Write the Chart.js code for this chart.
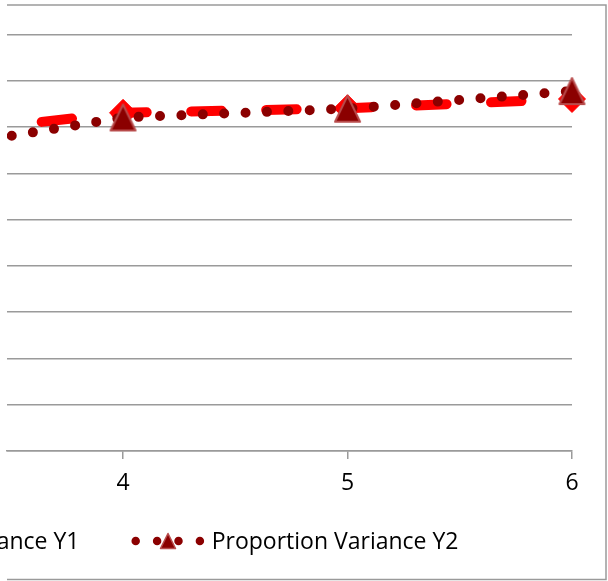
<!DOCTYPE html>
<html>
<head>
<meta charset="utf-8">
<script src="https://cdn.jsdelivr.net/npm/chart.js@4.4.0/dist/chart.umd.min.js"></script>
<style>
html, body { margin: 0; padding: 0; background: #fff; }
#wrap { position: relative; width: 608px; height: 581px; }
</style>
</head>
<body>
<div id="wrap"><canvas id="varianceChart"></canvas></div>
<script>
// values (only the right part of the chart is visible)
var xValues = [3, 4, 5, 6];
var y1Values = [0.677, 0.731, 0.741, 0.761];
var y2Values = [0.641, 0.721, 0.740, 0.778];
var seriesNames = ['Proportion Variance Y1', 'Proportion Variance Y2'];
var xTicks = [4, 5, 6];

var FONT = '"Open Sans", "DejaVu Sans", sans-serif';
var GRID = '#9a9a9a';

function toPoints(ys) {
  return xValues.map(function (x, i) { return { x: x, y: ys[i] }; });
}

// excel like triangle marker, centred on its bounding box
function triangleMarker(w, h, lw) {
  var c = document.createElement('canvas');
  c.width = w + lw * 2;
  c.height = h + lw * 2;
  var g = c.getContext('2d');
  g.beginPath();
  g.moveTo(c.width / 2, lw);
  g.lineTo(c.width - lw, c.height - lw);
  g.lineTo(lw, c.height - lw);
  g.closePath();
  g.fillStyle = '#8b0000';
  g.fill();
  g.lineWidth = lw;
  g.lineJoin = 'round';
  g.strokeStyle = '#b84c4c';
  g.stroke();
  return c;
}
var plotTriangle = triangleMarker(25, 26, 2);
var legendTriangle = triangleMarker(15, 15, 1.5);

// outer border of the chart (left side is cut off)
var frame = {
  id: 'frame',
  beforeDraw: function (c) {
    var ctx = c.ctx;
    ctx.save();
    ctx.strokeStyle = GRID;
    ctx.lineWidth = 1.5;
    ctx.beginPath();
    ctx.moveTo(7, 5);
    ctx.lineTo(606, 5);
    ctx.lineTo(606, 579.5);
    ctx.lineTo(7, 579.5);
    ctx.stroke();
    ctx.restore();
  }
};

// legend drawn like excel: line sample with marker, then the label
var excelLegend = {
  id: 'excelLegend',
  afterDraw: function (c) {
    var ctx = c.ctx;
    var y = 541, sample = 64.6, gap = 11.4, itemGap = 56.2, centerX = 107.6;
    ctx.save();
    ctx.font = '23px ' + FONT;
    var widths = c.data.datasets.map(function (ds) {
      return sample + gap + ctx.measureText(ds.label).width;
    });
    var total = widths.reduce(function (a, b) { return a + b; }, 0) + itemGap * (widths.length - 1);
    var x = centerX - total / 2;
    c.data.datasets.forEach(function (ds, i) {
      ctx.save();
      ctx.beginPath();
      ctx.strokeStyle = ds.borderColor;
      ctx.lineWidth = ds.borderWidth - 1.5;
      ctx.lineCap = 'round';
      ctx.setLineDash(ds.borderDash);
      ctx.moveTo(x, y);
      ctx.lineTo(x + sample, y);
      ctx.stroke();
      ctx.restore();
      var mx = x + sample / 2;
      if (ds.pointStyle === 'rectRot') {
        ctx.beginPath();
        ctx.moveTo(mx - 9, y);
        ctx.lineTo(mx, y - 9);
        ctx.lineTo(mx + 9, y);
        ctx.lineTo(mx, y + 9);
        ctx.closePath();
        ctx.fillStyle = ds.backgroundColor;
        ctx.fill();
      } else {
        ctx.drawImage(legendTriangle, mx - legendTriangle.width / 2, y - legendTriangle.height / 2);
      }
      ctx.fillStyle = '#000';
      ctx.textBaseline = 'alphabetic';
      ctx.textAlign = 'left';
      ctx.fillText(ds.label, x + sample + gap, y + 7.5);
      x += widths[i] + itemGap;
    });
    ctx.restore();
  }
};

var varianceChart = document.getElementById('varianceChart').getContext('2d');
var chart = new Chart(varianceChart, {
  type: 'line',
  data: {
    datasets: [{
      label: seriesNames[0],
      data: toPoints(y1Values),
      borderColor: '#ff0000',
      backgroundColor: '#ff0000',
      borderWidth: 10,
      borderDash: [30.5, 44.5],
      borderDashOffset: 6,
      borderCapStyle: 'round',
      tension: 0,
      pointStyle: 'rectRot',
      pointRadius: 13.5,
      pointBorderWidth: 1,
      clip: { left: 0, top: 30, right: 30, bottom: 30 },
      order: 1
    }, {
      label: seriesNames[1],
      data: toPoints(y2Values),
      borderColor: '#8b0000',
      backgroundColor: '#8b0000',
      borderWidth: 10,
      borderDash: [0, 21.4],
      borderDashOffset: 13.7,
      borderCapStyle: 'round',
      tension: 0,
      pointStyle: plotTriangle,
      pointRadius: 14,
      clip: { left: 0, top: 30, right: 30, bottom: 30 },
      order: 0
    }]
  },
  options: {
    responsive: true,
    maintainAspectRatio: false,
    animation: false,
    events: [],
    layout: { autoPadding: false, padding: { left: 7, right: 36, top: 34.7, bottom: 72.5 } },
    scales: {
      x: {
        type: 'linear',
        min: 3.483,
        max: 6,
        afterBuildTicks: function (axis) {
          axis.ticks = xTicks.map(function (v) { return { value: v }; });
        },
        afterFit: function (axis) { axis.paddingLeft = 0; axis.paddingRight = 0; },
        grid: { drawOnChartArea: false, drawTicks: true, tickLength: 8, color: GRID, lineWidth: 1.5 },
        border: { color: GRID, width: 1.5 },
        ticks: { padding: 11, color: '#000', maxRotation: 0, font: { family: FONT, size: 23 } }
      },
      y: {
        min: 0,
        max: 0.9,
        afterFit: function (axis) { axis.width = 0; },
        ticks: { display: false, stepSize: 0.1 },
        grid: { color: GRID, lineWidth: 1.5, drawTicks: false },
        border: { display: false }
      }
    },
    plugins: {
      legend: { display: false },
      tooltip: { enabled: false }
    }
  },
  plugins: [frame, excelLegend]
});
</script>
</body>
</html>
